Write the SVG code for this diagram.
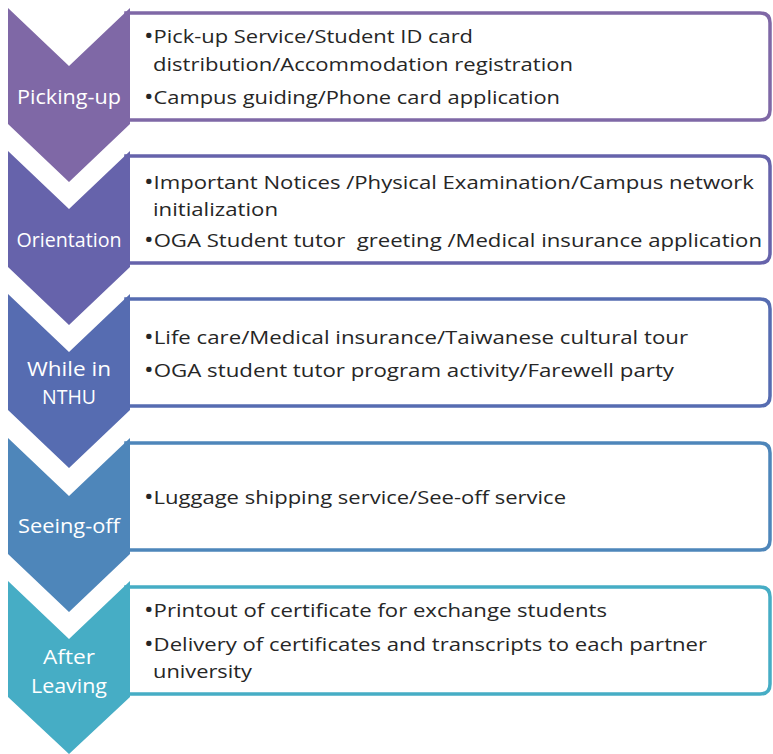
<svg xmlns="http://www.w3.org/2000/svg" width="773" height="754" viewBox="0 0 773 754">
<style>
.box{fill:#fff;stroke-width:3.5}
.lbl{font-family:"Open Sans","Liberation Sans",sans-serif;font-size:19.5px;fill:#fff;text-anchor:middle}
.txt{font-family:"Open Sans","Liberation Sans",sans-serif;font-size:19px;fill:#262626;white-space:pre}
.b{font-size:22px}
</style>
<defs>
<path id="card" d="M126,0 H760 Q770,0 770,10 V97 Q770,107 760,107 H126 Z"/>
</defs>
<rect width="773" height="754" fill="#fff"/>
<g id="connectors"/>
<g id="step1">
<use href="#card" class="box" stroke="#7f68a6" transform="translate(0,13)"/>
<path d="M8,8 L69,66 L130,8 L130,124 L69,182 L8,124 Z" fill="#7f68a6"/>
<text class="lbl" x="69" y="104" textLength="104" lengthAdjust="spacingAndGlyphs">Picking-up</text>
<text class="txt" x="144" y="43" textLength="329" lengthAdjust="spacingAndGlyphs"><tspan class="b">•</tspan>Pick-up Service/Student ID card</text>
<text class="txt" x="153" y="71" textLength="420" lengthAdjust="spacingAndGlyphs">distribution/Accommodation registration</text>
<text class="txt" x="144" y="104" textLength="416" lengthAdjust="spacingAndGlyphs"><tspan class="b">•</tspan>Campus guiding/Phone card application</text>
</g>
<g id="step2">
<use href="#card" class="box" stroke="#6663ab" transform="translate(0,156)"/>
<path d="M8,151 L69,209 L130,151 L130,267 L69,325 L8,267 Z" fill="#6663ab"/>
<text class="lbl" x="69" y="247" textLength="105" lengthAdjust="spacingAndGlyphs">Orientation</text>
<text class="txt" x="144" y="189" textLength="610" lengthAdjust="spacingAndGlyphs"><tspan class="b">•</tspan>Important Notices /Physical Examination/Campus network</text>
<text class="txt" x="153" y="216" textLength="125" lengthAdjust="spacingAndGlyphs">initialization</text>
<text class="txt" x="144" y="247" textLength="618" lengthAdjust="spacingAndGlyphs" xml:space="preserve"><tspan class="b">•</tspan>OGA Student tutor  greeting /Medical insurance application</text>
</g>
<g id="step3">
<use href="#card" class="box" stroke="#566cb1" transform="translate(0,299)"/>
<path d="M8,294 L69,352 L130,294 L130,410 L69,468 L8,410 Z" fill="#566cb1"/>
<text class="lbl" x="69" y="376" textLength="84" lengthAdjust="spacingAndGlyphs">While in</text>
<text class="lbl" x="69" y="404" textLength="54" lengthAdjust="spacingAndGlyphs">NTHU</text>
<text class="txt" x="144" y="344" textLength="544" lengthAdjust="spacingAndGlyphs"><tspan class="b">•</tspan>Life care/Medical insurance/Taiwanese cultural tour</text>
<text class="txt" x="144" y="377" textLength="530" lengthAdjust="spacingAndGlyphs"><tspan class="b">•</tspan>OGA student tutor program activity/Farewell party</text>
</g>
<g id="step4">
<use href="#card" class="box" stroke="#4e86ba" transform="translate(0,443)"/>
<path d="M8,438 L69,496 L130,438 L130,554 L69,612 L8,554 Z" fill="#4e86ba"/>
<text class="lbl" x="69" y="533" textLength="102" lengthAdjust="spacingAndGlyphs">Seeing-off</text>
<text class="txt" x="144" y="504" textLength="422" lengthAdjust="spacingAndGlyphs"><tspan class="b">•</tspan>Luggage shipping service/See-off service</text>
</g>
<g id="step5">
<use href="#card" class="box" stroke="#46adc5" transform="translate(0,587)"/>
<path d="M8,581 L69,639 L130,581 L130,697 L69,754 L8,697 Z" fill="#46adc5"/>
<text class="lbl" x="69" y="664" textLength="52" lengthAdjust="spacingAndGlyphs">After</text>
<text class="lbl" x="69" y="693" textLength="76" lengthAdjust="spacingAndGlyphs">Leaving</text>
<text class="txt" x="144" y="617" textLength="463" lengthAdjust="spacingAndGlyphs"><tspan class="b">•</tspan>Printout of certificate for exchange students</text>
<text class="txt" x="144" y="651" textLength="563" lengthAdjust="spacingAndGlyphs"><tspan class="b">•</tspan>Delivery of certificates and transcripts to each partner</text>
<text class="txt" x="153" y="678" textLength="99" lengthAdjust="spacingAndGlyphs">university</text>
</g>
</svg>
